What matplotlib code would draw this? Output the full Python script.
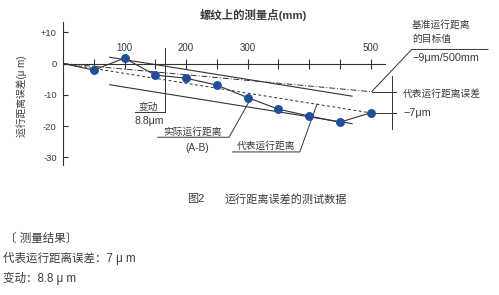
import matplotlib
matplotlib.use('Agg')
import matplotlib.pyplot as plt

plt.rcParams['font.family'] = ['Liberation Sans', 'Noto Sans CJK SC', 'DejaVu Sans']

# ---------------- DATA ----------------
positions_mm = [0, 50, 100, 150, 200, 250, 300, 350, 400, 450, 500]
actual_error_um = [0, -2.1, 1.7, -3.7, -4.7, -6.9, -10.9, -14.6, -16.8, -18.8, -15.8]

x_ticks = [50, 100, 150, 200, 250, 300, 350, 400, 450, 500]
x_tick_labels = ['', '100', '', '200', '', '300', '', '', '', '500']
y_ticks = [10, 0, -10, -20, -30]
y_tick_labels = ['+10', '0', '-10', '-20', '-30']

target_line_x = [0, 500]
target_line_y = [0, -9]           # reference travel target: -9um / 500mm
representative_line_y = [0, -15.8]  # representative travel
band_x = [76, 470]                # extent of the variation band lines
band_half_width = 4.4             # 8.8um variation / 2

title = '螺纹上的测量点(mm)'
ylabel = '运行距离误差(μ m)'
caption_num = '图2'
caption_text = '运行距离误差的测试数据'
result_lines = ['〔 测量结果〕', '代表运行距离误差：7 μ m', '变动：8.8 μ m']

TXT = '#3a3a3a'
LN = '#333333'
DOT = '#1f4f98'

W, H = 499, 295
fig = plt.figure(figsize=(W / 100, H / 100), dpi=100)

# axes geometry in pixels
x0_px, x1_px = 63, 385
ytop_px, ybot_px = 22, 165
zero_px = 63.5
px_per_mm = 0.615
px_per_um = 3.125

ax = fig.add_axes([x0_px / W, 1 - ybot_px / H, (x1_px - x0_px) / W, (ybot_px - ytop_px) / H])
ax.set_xlim(0, (x1_px - x0_px) / px_per_mm)
ax.set_ylim(-(ybot_px - zero_px) / px_per_um, (zero_px - ytop_px) / px_per_um)
ax.patch.set_visible(False)

for s in ['bottom', 'right']:
    ax.spines[s].set_visible(False)
ax.spines['top'].set_position(('data', 0))
for s in ['top', 'left']:
    ax.spines[s].set_color(LN)
    ax.spines[s].set_linewidth(0.8)

ax.xaxis.set_ticks_position('top')
ax.set_xticks(x_ticks)
ax.set_xticklabels(x_tick_labels)
ax.tick_params(axis='x', direction='inout', length=6.5, width=0.8, pad=4.5,
               labelsize=7, colors=LN, labelcolor=TXT)
ax.set_yticks(y_ticks)
ax.set_yticklabels(y_tick_labels)
ax.tick_params(axis='y', direction='in', length=3.5, width=0.8, pad=4.5,
               labelsize=6.8, colors=LN, labelcolor=TXT)

# reference / representative lines
ax.plot(target_line_x, target_line_y, color=LN, lw=0.7, ls=(0, (6, 2, 1, 2)), clip_on=False)
ax.plot(target_line_x, representative_line_y, color=LN, lw=0.7, ls=(0, (3, 2.5)), clip_on=False)

# variation band lines (parallel to representative travel)
slope = representative_line_y[1] / target_line_x[1]
ax.plot(band_x, [slope * x + band_half_width for x in band_x], color=LN, lw=0.8)
ax.plot(band_x, [slope * x - band_half_width for x in band_x], color=LN, lw=0.8)

# actual travel
ax.plot(positions_mm, actual_error_um, color=LN, lw=0.8, zorder=3)
ax.plot(positions_mm[1:], actual_error_um[1:], ls='none', marker='o', ms=5.4,
        color=DOT, zorder=4, clip_on=False)

kw = dict(color=LN, lw=0.7, clip_on=False)

# variation dimension
ax.plot([165.5, 165.5], [5.1, -15.5], **kw)
ax.plot([117, 165.5], [-15.5, -15.5], **kw)
ax.text(138, -13.9, '变动', fontsize=7, color=TXT, ha='center', va='center')
ax.text(141, -18.3, '8.8μm', fontsize=7.6, color=TXT, ha='center', va='center')

# actual travel leader
ax.plot([154, 270, 304], [-23.6, -23.6, -11.7], **kw)
ax.text(210, -21.9, '实际运行距离', fontsize=7, color=TXT, ha='center', va='center')
ax.text(218, -27.0, '(A-B)', fontsize=7.3, color=TXT, ha='center', va='center')

# representative travel leader
ax.plot([276, 385, 413], [-28.3, -28.3, -13.0], **kw)
ax.text(330, -26.5, '代表运行距离', fontsize=7, color=TXT, ha='center', va='center')

# right side annotations
ax.plot([502, 542], [target_line_y[1], target_line_y[1]], **kw)
ax.plot([500, 542], [representative_line_y[1], representative_line_y[1]], **kw)
ax.plot([535, 535], [-4.0, -20.9], **kw)
ax.plot([502, 567, 691], [target_line_y[1], 4.5, 4.5], **kw)
ax.text(567, 12.3, '基准运行距离', fontsize=7, color=TXT, ha='left', va='center')
ax.text(567, 7.8, '的目标值', fontsize=7, color=TXT, ha='left', va='center')
ax.text(568, 1.8, '−9μm/500mm', fontsize=7.8, color=TXT, ha='left', va='center')
ax.text(553, -9.7, '代表运行距离误差', fontsize=7, color=TXT, ha='left', va='center')
ax.text(554, -15.8, '−7μm', fontsize=7.8, color=TXT, ha='left', va='center')

# titles and captions (figure pixel coords)
def ftext(x, y, s, **k):
    fig.text(x / W, 1 - y / H, s, **k)

ftext(253, 15, title, fontsize=8.2, color=TXT, ha='center', va='center', fontweight='bold')
ftext(22, 96, ylabel, fontsize=7, color=TXT, ha='center', va='center', rotation=90)
ftext(196, 199, caption_num, fontsize=8, color=TXT, ha='center', va='center')
ftext(225, 199, caption_text, fontsize=8, color=TXT, ha='left', va='center')
ftext(5, 239, result_lines[0], fontsize=8.3, color=TXT, ha='left', va='center')
ftext(3, 258, result_lines[1], fontsize=8.3, color=TXT, ha='left', va='center')
ftext(3, 278, result_lines[2], fontsize=8.3, color=TXT, ha='left', va='center')

fig.savefig('out.png', dpi=100)
